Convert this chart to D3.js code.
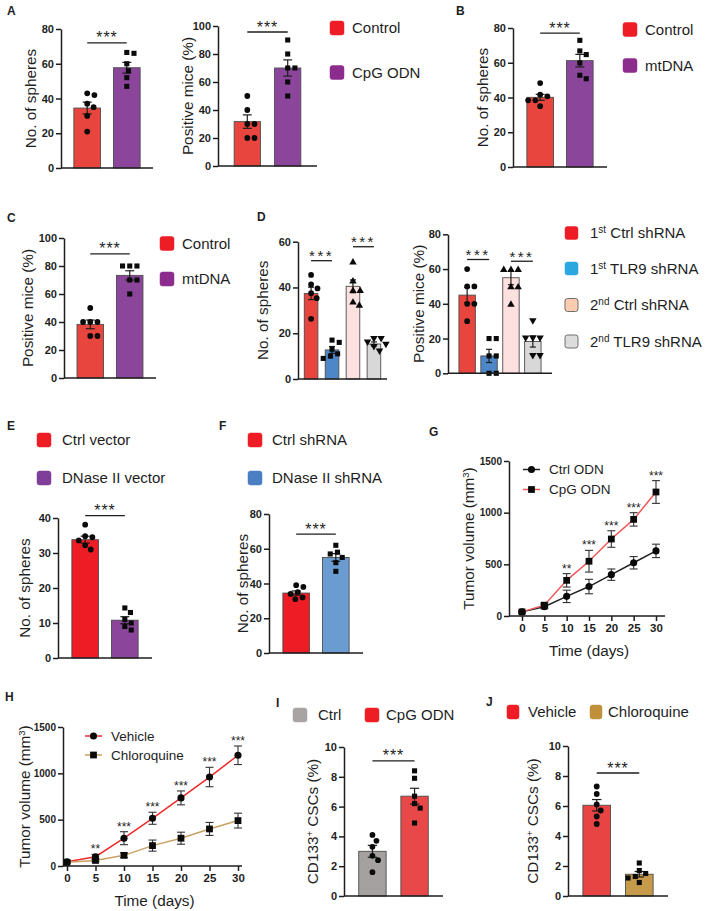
<!DOCTYPE html>
<html><head><meta charset="utf-8">
<script src="https://cdn.jsdelivr.net/npm/d3@7"></script>
<style>body{margin:0;background:#fff}svg{display:block}</style>
</head><body>
<script>
// ---------------- DATA ----------------
// Panel A (left): No. of spheres
const aGroups = ["Control", "CpG ODN"];
const aSpheresMean = [34.5, 57.7];
const aSpheresSem = [3.4, 3.1];
const aSpheresPts = [[43, 42, 37, 35, 30, 21], [66.5, 66, 60, 56, 52, 47]];
// Panel A (right): Positive mice (%)
const aMiceMean = [31.7, 70];
const aMiceSem = [4.8, 5.8];
const aMicePts = [[50, 40, 30, 30, 20, 20], [90, 80, 70, 70, 60, 50]];
// Panel B
const bGroups = ["Control", "mtDNA"];
const bMean = [40.1, 61.2];
const bSem = [1.7, 3.6];
const bPts = [[48.3, 41.6, 40.7, 38.4, 38.4, 35], [72.9, 66.8, 64.7, 59.9, 52.8, 50.8]];
// Panel C
const cMean = [38.3, 73.3];
const cSem = [3.1, 3.3];
const cPts = [[50, 40, 40, 40, 30, 30], [80, 80, 80, 70, 70, 60]];
// Panel D
const dGroups = ["1st Ctrl shRNA", "1st TLR9 shRNA", "2nd Ctrl shRNA", "2nd TLR9 shRNA"];
const dSpheresMean = [37.4, 12.7, 40.5, 15.3];
const dSpheresSem = [2.7, 1.5, 2.8, 0.9];
const dSpheresPts = [[45.5, 41.3, 39.6, 37.5, 35.3, 26.3], [17, 16, 13, 11, 10, 9], [51.3, 43, 38.9, 38.9, 33.8, 32.4], [17.5, 17.5, 16, 15, 14, 12]];
const dMiceMean = [45, 10, 55, 18.3];
const dMiceSem = [4.4, 3.8, 4.0, 3.2];
const dMicePts = [[60, 50, 50, 40, 40, 30], [20, 20, 10, 10, 0, 0], [60, 60, 60, 50, 50, 40], [30, 20, 20, 20, 10, 10]];
// Panel E
const eGroups = ["Ctrl vector", "DNase II vector"];
const eMean = [33.8, 10.8];
const eSem = [1.0, 1.0];
const ePts = [[38.1, 34.8, 34.5, 33.6, 32.2, 31], [14.3, 13, 11, 10, 9, 8]];
// Panel F
const fGroups = ["Ctrl shRNA", "DNase II shRNA"];
const fMean = [34.5, 55];
const fSem = [1.2, 2.2];
const fPts = [[39, 38, 35, 34, 32, 31], [62, 58, 57, 55, 52, 47]];
// Panel G (tumor growth)
const days = [0, 5, 10, 15, 20, 25, 30];
const gCtrl = [40, 90, 190, 285, 400, 515, 630];
const gCtrlErr = [10, 20, 60, 70, 55, 60, 65];
const gCpg = [40, 105, 345, 530, 745, 935, 1200];
const gCpgErr = [10, 20, 65, 105, 80, 65, 110];
const gSig = ["", "", "**", "***", "***", "***", "***"];
// Panel H
const hVehicle = [45, 100, 300, 515, 735, 960, 1195];
const hVehicleErr = [10, 25, 70, 65, 75, 105, 100];
const hChloro = [40, 60, 115, 220, 300, 400, 490];
const hChloroErr = [10, 15, 25, 60, 65, 70, 80];
const hSig = ["", "**", "***", "***", "***", "***", "***"];
// Panel I
const iGroups = ["Ctrl", "CpG ODN"];
const iMean = [3.0, 6.7];
const iSem = [0.4, 0.53];
const iPts = [[4.1, 3.7, 3.3, 2.7, 2.4, 1.6], [8.4, 7.9, 6.7, 6.2, 5.9, 4.9]];
// Panel J
const jGroups = ["Vehicle", "Chloroquine"];
const jMean = [6.05, 1.45];
const jSem = [0.38, 0.18];
const jPts = [[7.3, 6.8, 6.1, 5.7, 5.3, 4.8], [2.2, 1.7, 1.5, 1.3, 1.2, 0.9]];
// tick values
const ticks80 = [0, 20, 40, 60, 80];
const ticks100 = [0, 20, 40, 60, 80, 100];
const ticks60 = [0, 20, 40, 60];
const ticks40 = [0, 10, 20, 30, 40];
const ticks10 = [0, 2, 4, 6, 8, 10];
const ticksVol = [0, 500, 1000, 1500];
const ticksDays = [0, 5, 10, 15, 20, 25, 30];

// ---------------- DRAWING ----------------
const FONT = "'Liberation Sans', Arial, Helvetica, sans-serif";
const INK = "#1e1e1e";
const LABEL_FS = 15.3;
const svg = d3.select("body").append("svg").attr("width", 709).attr("height", 911)
  .style("font-family", FONT);

const shapeMap = {
  circle: d3.symbol().type(d3.symbolCircle).size(26),
  square: d3.symbol().type(d3.symbolSquare).size(26),
  triangle: d3.symbol().type(d3.symbolTriangle).size(24),
  tridown: d3.symbol().type(d3.symbolTriangle).size(24)
};

function styleAxis(sel, fs) {
  sel.select(".domain").attr("stroke", INK).attr("stroke-width", 1.5);
  sel.selectAll(".tick line").attr("stroke", INK).attr("stroke-width", 1.5);
  sel.selectAll(".tick text").attr("fill", INK).style("font-family", FONT)
    .style("font-size", (fs || 11) + "px").style("font-weight", "bold");
}

function yLabel(x, yc, parts, fs) {
  const t = svg.append("text").attr("transform", `translate(${x + fs * 0.36},${yc}) rotate(-90)`)
    .attr("text-anchor", "middle").attr("fill", INK).style("font-size", fs + "px");
  parts.forEach(p => {
    if (typeof p === "string") {
      t.append("tspan").text(p);
    } else {
      t.append("tspan").attr("baseline-shift", "super").style("font-size", (fs * 0.62) + "px").text(p.superscript);
    }
  });
  return t;
}

function panelLabel(txt, x, y) {
  svg.append("text").attr("x", x).attr("y", y).text(txt).attr("fill", INK)
    .style("font-size", "12px").style("font-weight", "bold");
}

function legendSq(x, yc, color, label, opts = {}) {
  const s = opts.size || 14;
  svg.append("rect").attr("x", x).attr("y", yc - s / 2).attr("width", opts.w || s).attr("height", s)
    .attr("rx", 2.5).attr("fill", color).attr("stroke", opts.stroke || color).attr("stroke-width", opts.stroke ? 1 : 0.5);
  const t = svg.append("text").attr("x", opts.tx).attr("y", yc + 5.3).attr("fill", INK)
    .style("font-size", (opts.fs || 15) + "px");
  if (Array.isArray(label)) {
    t.append("tspan").text(label[0]);
    t.append("tspan").attr("baseline-shift", "super").style("font-size", "10px").text(label[1]);
    t.append("tspan").text(label[2]);
  } else t.text(label);
}

function sigStar(g, x1, x2, yPx, opts = {}) {
  g.append("line").attr("x1", x1).attr("x2", x2).attr("y1", yPx).attr("y2", yPx)
    .attr("stroke", INK).attr("stroke-width", 1.3);
  g.append("text").attr("x", (x1 + x2) / 2).attr("y", yPx + (opts.dy || 0.5)).attr("text-anchor", "middle")
    .attr("fill", INK).style("font-size", (opts.fs || 16) + "px").style("letter-spacing", (opts.ls || 1) + "px")
    .text("***");
}

function beeswarm(vals, y, cx, minDist) {
  const placed = [];
  const order = vals.map((v, i) => i).sort((a, b) => vals[b] - vals[a]);
  const out = new Array(vals.length);
  order.forEach(i => {
    const py = y(vals[i]);
    let off = 0;
    for (let k = 0; k < 60; k++) {
      const cand = k === 0 ? 0 : (k % 2 ? 1 : -1) * Math.ceil(k / 2) * 0.8;
      const ok = placed.every(p => Math.hypot(p[0] - (cx + cand), p[1] - py) >= minDist);
      if (ok) { off = cand; break; }
    }
    placed.push([cx + off, py]);
    out[i] = [cx + off, py];
  });
  return out;
}

function barPanel(c) {
  const g = svg.append("g");
  const x = d3.scaleBand().domain(c.groups).range([c.left, c.right]).paddingInner(c.pi).paddingOuter(c.po);
  const y = d3.scaleLinear().domain([0, c.yMax]).range([c.bottom, c.top]);
  const bw = x.bandwidth();
  g.selectAll("rect.bar").data(c.groups).join("rect").attr("class", "bar")
    .attr("x", d => x(d)).attr("y", (d, i) => y(c.means[i])).attr("width", bw)
    .attr("height", (d, i) => y(0) - y(c.means[i]))
    .attr("fill", (d, i) => c.colors[i]).attr("stroke", "#4d4d4d").attr("stroke-width", 0.9);
  // error bars
  const cap = Math.max(6, bw * 0.34);
  c.groups.forEach((d, i) => {
    const cx = x(d) + bw / 2;
    const hi = y(c.means[i] + c.sems[i]), lo = y(c.means[i] - c.sems[i]);
    g.append("line").attr("x1", cx).attr("x2", cx).attr("y1", hi).attr("y2", lo).attr("stroke", INK).attr("stroke-width", 1.2);
    [hi, lo].forEach(yy => g.append("line").attr("x1", cx - cap / 2).attr("x2", cx + cap / 2)
      .attr("y1", yy).attr("y2", yy).attr("stroke", INK).attr("stroke-width", 1.2));
  });
  // points
  c.groups.forEach((d, i) => {
    const cx = x(d) + bw / 2;
    const pos = beeswarm(c.points[i], y, cx, 7);
    const sh = c.shapes[i];
    g.selectAll(null).data(pos).join("path")
      .attr("d", shapeMap[sh])
      .attr("transform", p => `translate(${p[0]},${p[1] + (sh === "triangle" ? 0.8 : sh === "tridown" ? -0.8 : 0)})${sh === "tridown" ? " rotate(180)" : ""}`)
      .attr("fill", "#0a0a0a");
  });
  // axes
  const ax = g.append("g").attr("transform", `translate(${c.left},0)`)
    .call(d3.axisLeft(y).tickValues(c.ticks).tickSize(5).tickSizeOuter(0).tickPadding(2).tickFormat(d3.format("d")));
  styleAxis(ax);
  g.append("line").attr("x1", c.left).attr("x2", c.right).attr("y1", y(0)).attr("y2", y(0))
    .attr("stroke", INK).attr("stroke-width", 1.5);
  // significance
  (c.sig || []).forEach(s => {
    sigStar(g, x(c.groups[s[0]]) + bw / 2, x(c.groups[s[1]]) + bw / 2, y(s[2]), c.sigOpts || {});
  });
  yLabel(c.labX, (c.top + c.bottom) / 2, c.ylab, LABEL_FS);
}

function lineChart(c) {
  const g = svg.append("g");
  const x = d3.scaleLinear().domain([0, 30]).range([c.x0, c.x30]);
  const y = d3.scaleLinear().domain([0, 1500]).range([c.bottom, c.top]);
  const ax = g.append("g").attr("transform", `translate(${c.left},0)`)
    .call(d3.axisLeft(y).tickValues(ticksVol).tickSize(5).tickSizeOuter(0).tickPadding(2).tickFormat(d3.format("d")));
  styleAxis(ax, 10);
  g.append("line").attr("x1", c.left).attr("x2", c.right).attr("y1", c.bottom).attr("y2", c.bottom)
    .attr("stroke", INK).attr("stroke-width", 1.5);
  const bx = g.append("g").attr("transform", `translate(0,${c.bottom})`)
    .call(d3.axisBottom(x).tickValues(ticksDays).tickSize(5).tickSizeOuter(0).tickPadding(3));
  bx.select(".domain").remove();
  styleAxis(bx, 11.5);
  const line = d3.line().x((d, i) => x(days[i])).y(d => y(d));
  c.series.forEach(s => {
    g.append("path").datum(s.vals).attr("d", line).attr("fill", "none").attr("stroke", s.color).attr("stroke-width", 1.5);
    s.vals.forEach((v, i) => {
      const cx = x(days[i]);
      const hi = y(v + s.err[i]), lo = y(v - s.err[i]);
      g.append("line").attr("x1", cx).attr("x2", cx).attr("y1", hi).attr("y2", lo).attr("stroke", "#333").attr("stroke-width", 1.1);
      [hi, lo].forEach(yy => g.append("line").attr("x1", cx - 4).attr("x2", cx + 4).attr("y1", yy).attr("y2", yy)
        .attr("stroke", "#333").attr("stroke-width", 1.1));
    });
    g.selectAll(null).data(s.vals).join("path")
      .attr("d", d3.symbol().type(s.shape === "square" ? d3.symbolSquare : d3.symbolCircle).size(s.shape === "square" ? 46 : 40))
      .attr("transform", (d, i) => `translate(${x(days[i])},${y(d)})`).attr("fill", "#0a0a0a");
  });
  // stars
  c.sig.forEach((t, i) => {
    if (!t) return;
    const top = d3.max(c.series, s => s.vals[i] + s.err[i]);
    g.append("text").attr("x", x(days[i])).attr("y", y(top) - 1).attr("text-anchor", "middle")
      .attr("fill", INK).style("font-size", "12px").text(t);
  });
  // legend
  c.series.forEach((s, k) => {
    const ly = c.legY + k * c.legStep;
    g.append("line").attr("x1", c.legX).attr("x2", c.legX + 17).attr("y1", ly).attr("y2", ly)
      .attr("stroke", s.color).attr("stroke-width", 1.5);
    g.append("path").attr("d", d3.symbol().type(s.shape === "square" ? d3.symbolSquare : d3.symbolCircle).size(s.shape === "square" ? 46 : 40))
      .attr("transform", `translate(${c.legX + 8.5},${ly})`).attr("fill", "#0a0a0a");
    g.append("text").attr("x", c.legX + 26).attr("y", ly + 4.8).attr("fill", INK).style("font-size", "13.5px").text(s.name);
  });
  g.append("text").attr("x", (c.left + c.right) / 2 + 2).attr("y", c.bottom + 40).attr("text-anchor", "middle")
    .attr("fill", INK).style("font-size", LABEL_FS + "px").text("Time (days)");
  yLabel(c.labX, (c.top + c.bottom) / 2, ["Tumor volume (mm", { superscript: "3" }, ")"], LABEL_FS);
}

const RED = "#e8453f", PURPLE = "#8b469c";
const LRED = "#ee1c25", LPURPLE = "#8c2d8e";

// ---- Panel A ----
panelLabel("A", 7, 15);
barPanel({ groups: aGroups, means: aSpheresMean, sems: aSpheresSem, points: aSpheresPts,
  colors: [RED, PURPLE], shapes: ["circle", "square"], left: 61, right: 153, top: 29, bottom: 168,
  yMax: 80, ticks: ticks80, pi: 0.325, po: 0.325, sig: [[0, 1, 72]], labX: 30, ylab: ["No. of spheres"] });
barPanel({ groups: aGroups, means: aMiceMean, sems: aMiceSem, points: aMicePts,
  colors: [RED, PURPLE], shapes: ["circle", "square"], left: 218, right: 317, top: 26, bottom: 166,
  yMax: 100, ticks: ticks100, pi: 0.35, po: 0.4, sig: [[0, 1, 95.7]], labX: 187, ylab: ["Positive mice (%)"] });
legendSq(330, 28, LRED, "Control", { tx: 352 });
legendSq(330, 72.5, LPURPLE, "CpG ODN", { tx: 352 });

// ---- Panel B ----
panelLabel("B", 456, 15);
barPanel({ groups: bGroups, means: bMean, sems: bSem, points: bPts,
  colors: [RED, PURPLE], shapes: ["circle", "square"], left: 513, right: 607, top: 28, bottom: 167,
  yMax: 80, ticks: ticks80, pi: 0.33, po: 0.35, sig: [[0, 1, 77]], labX: 482, ylab: ["No. of spheres"] });
legendSq(623, 29.5, LRED, "Control", { tx: 645 });
legendSq(623, 65.5, LPURPLE, "mtDNA", { tx: 645 });

// ---- Panel C ----
panelLabel("C", 7, 222);
barPanel({ groups: bGroups, means: cMean, sems: cSem, points: cPts,
  colors: [RED, PURPLE], shapes: ["circle", "square"], left: 64, right: 156, top: 238, bottom: 378,
  yMax: 100, ticks: ticks100, pi: 0.33, po: 0.33, sig: [[0, 1, 88.6]], labX: 27, ylab: ["Positive mice (%)"] });
legendSq(160, 243.5, LRED, "Control", { tx: 182 });
legendSq(160, 279, LPURPLE, "mtDNA", { tx: 182 });

// ---- Panel D ----
panelLabel("D", 257, 221);
const dColors = [RED, "#4d87c8", "#fde0e0", "#d8d8d8"];
barPanel({ groups: dGroups, means: dSpheresMean, sems: dSpheresSem, points: dSpheresPts,
  colors: dColors, shapes: ["circle", "square", "triangle", "tridown"], left: 298, right: 387, top: 241.7, bottom: 379,
  yMax: 60, ticks: ticks60, pi: 0.35, po: 0.3, sig: [[0, 1, 51.7], [2, 3, 57.8]], sigOpts: { fs: 15, ls: 2.5 },
  labX: 262, ylab: ["No. of spheres"] });
barPanel({ groups: dGroups, means: dMiceMean, sems: dMiceSem, points: dMicePts,
  colors: dColors, shapes: ["circle", "square", "triangle", "tridown"], left: 448, right: 552, top: 234.3, bottom: 373.3,
  yMax: 80, ticks: ticks80, pi: 0.25, po: 0.5, sig: [[0, 1, 65.5], [2, 3, 64.5]], sigOpts: { fs: 15, ls: 2.5 },
  labX: 418, ylab: ["Positive mice (%)"] });
legendSq(565, 233, LRED, ["1", "st", " Ctrl shRNA"], { tx: 590, size: 13 });
legendSq(565, 268.5, "#2aa7df", ["1", "st", " TLR9 shRNA"], { tx: 590, size: 13 });
legendSq(565, 305, "#fbcdb0", ["2", "nd", " Ctrl shRNA"], { tx: 590, size: 13, stroke: "#6e6e6e" });
legendSq(565, 341.5, "#dcdcdc", ["2", "nd", " TLR9 shRNA"], { tx: 590, size: 13, stroke: "#6e6e6e" });

// ---- Panel E ----
panelLabel("E", 7, 430);
legendSq(37, 440, LRED, "Ctrl vector", { tx: 62 });
legendSq(37, 478, "#7f3f98", "DNase II vector", { tx: 62 });
barPanel({ groups: eGroups, means: eMean, sems: eSem, points: ePts,
  colors: ["#ee1d25", PURPLE], shapes: ["circle", "square"], left: 58, right: 152, top: 518, bottom: 658,
  yMax: 40, ticks: ticks40, pi: 0.33, po: 0.35, sig: [[0, 1, 40.7]], labX: 24, ylab: ["No. of spheres"] });

// ---- Panel F ----
panelLabel("F", 219, 430);
legendSq(248, 440, LRED, "Ctrl shRNA", { tx: 272 });
legendSq(248, 478, "#4b7fc3", "DNase II shRNA", { tx: 272 });
barPanel({ groups: fGroups, means: fMean, sems: fSem, points: fPts,
  colors: ["#ee1d25", "#6a9bd1"], shapes: ["circle", "square"], left: 269, right: 363, top: 514, bottom: 653,
  yMax: 80, ticks: ticks80, pi: 0.33, po: 0.35, sig: [[0, 1, 68.4]], labX: 242, ylab: ["No. of spheres"] });

// ---- Panel G ----
panelLabel("G", 429, 436);
lineChart({ left: 509, right: 665, x0: 522, x30: 656, top: 461, bottom: 616, labX: 468,
  series: [
    { name: "Ctrl ODN", vals: gCtrl, err: gCtrlErr, color: "#222", shape: "circle" },
    { name: "CpG ODN", vals: gCpg, err: gCpgErr, color: "#f25757", shape: "square" }
  ], sig: gSig, legX: 523, legY: 469.5, legStep: 20 });

// ---- Panel H ----
panelLabel("H", 5, 701);
lineChart({ left: 63, right: 242, x0: 67, x30: 238, top: 727, bottom: 866, labX: 24,
  series: [
    { name: "Vehicle", vals: hVehicle, err: hVehicleErr, color: "#ee2a2a", shape: "circle" },
    { name: "Chloroquine", vals: hChloro, err: hChloroErr, color: "#c9a062", shape: "square" }
  ], sig: hSig, legX: 85, legY: 736, legStep: 19 });

// ---- Panel I ----
panelLabel("I", 276, 707);
legendSq(293, 715, "#a8a4a4", "Ctrl", { tx: 318 });
legendSq(365, 715, LRED, "CpG ODN", { tx: 386 });
barPanel({ groups: iGroups, means: iMean, sems: iSem, points: iPts,
  colors: ["#a6a1a1", "#e94848"], shapes: ["circle", "square"], left: 344, right: 443, top: 747, bottom: 896,
  yMax: 10, ticks: ticks10, pi: 0.35, po: 0.35, sig: [[0, 1, 9.07]], labX: 312,
  ylab: ["CD133", { superscript: "+" }, " CSCs (%)"] });

// ---- Panel J ----
panelLabel("J", 486, 706);
legendSq(507, 712, LRED, "Vehicle", { tx: 528, w: 12 });
legendSq(590, 712, "#c0913a", "Chloroquine", { tx: 608, w: 12 });
barPanel({ groups: jGroups, means: jMean, sems: jSem, points: jPts,
  colors: ["#e94444", "#c59a4a"], shapes: ["circle", "square"], left: 568, right: 668, top: 746, bottom: 896,
  yMax: 10, ticks: ticks10, pi: 0.35, po: 0.35, sig: [[0, 1, 8.2]], labX: 532,
  ylab: ["CD133", { superscript: "+" }, " CSCs (%)"] });
</script>
</body></html>
